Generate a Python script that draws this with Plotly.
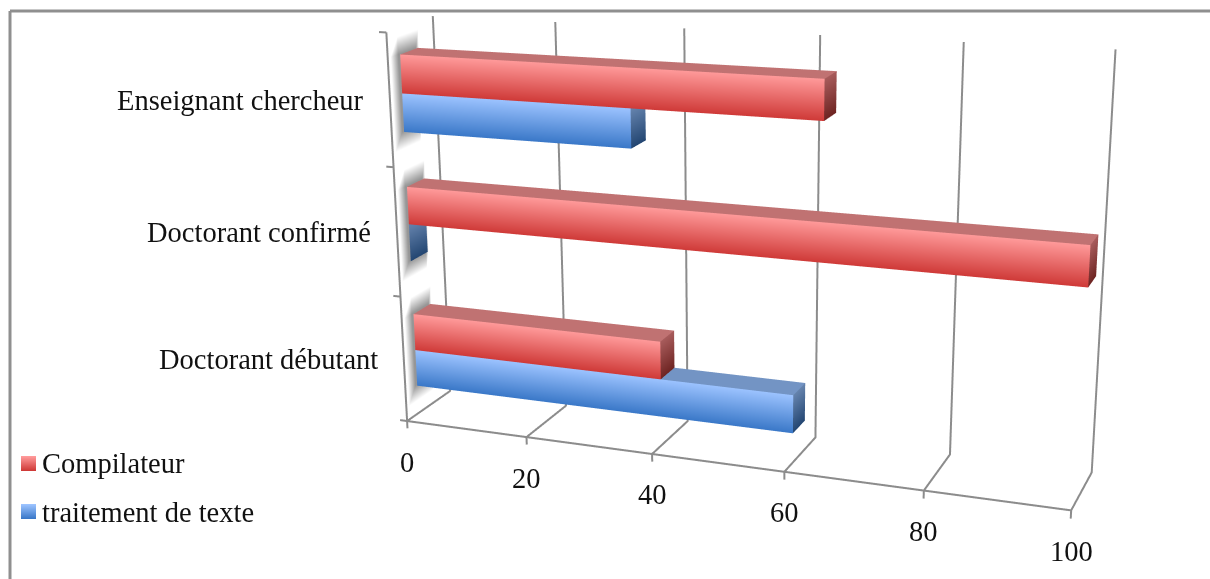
import math
import plotly.graph_objects as go

categories = ["Doctorant débutant", "Doctorant confirmé", "Enseignant chercheur"]
compilateur = [40, 100, 64]
traitement = [60, 0, 36]
ticks = [0, 20, 40, 60, 80, 100]

W = 1210
F = 2105.0
cx0, cy0 = 565.0, 346.0
Hfig = int(round(F/1.2071))
OFF = int(round(Hfig/2-cy0))

# camera and box proportions
EYE = (1.925711, -5.403704, 1.622701)
CENTER = (0.108368, -1.408201, 0.167147)
ROLL = 0.028897
ASPECT_Y, ASPECT_Z = 0.288425, 1.184775

pad = 0.1
xr = [-pad*100, 100+pad*100]; yr = [-pad, 1+pad]; zr = [-pad*3, 3+pad*3]
scale = 1+2*pad

RED = dict(t="#ff9a9a", b="#cf3a38", top="#c07272", ct="#a85c5c", cb="#6e2422")
BLUE = dict(t="#9cc3ff", b="#3a78c8", top="#7394c4", ct="#6684ae", cb="#234672")
FLAT = dict(ambient=1, diffuse=0, specular=0, roughness=1, fresnel=0)

def box(x1, y0, y1, z0, z1, col):
    vx = [0,x1,x1,0,  0,x1,x1,0,  x1,x1,x1,x1]
    vy = [y0,y0,y0,y0, y0,y0,y1,y1, y0,y1,y1,y0]
    vz = [z1,z1,z0,z0, z1,z1,z1,z1, z1,z1,z0,z0]
    vc = [col["t"]]*2+[col["b"]]*2+[col["top"]]*4+[col["ct"]]*2+[col["cb"]]*2
    i = [0,0,4,4,8,8]; j=[1,2,5,6,9,10]; k=[2,3,6,7,10,11]
    return go.Mesh3d(x=vx,y=vy,z=vz,i=i,j=j,k=k,vertexcolor=vc,hoverinfo="skip",showscale=False,
                     lighting=FLAT,flatshading=True)

def glow(zc, y0, y1, hw):
    ys = [y0-.16, y0, y1, y1+.06]
    zs = [zc-hw-.13, zc-hw, zc+hw, zc+hw+.13]
    vx, vy, vz, vc, I, J, K = [], [], [], [], [], [], []
    for a in range(4):
        for b in range(4):
            vx.append(-.3); vy.append(ys[a]); vz.append(zs[b])
            vc.append("#969696" if a in (1,2) and b in (1,2) else "#ffffff")
    for a in range(3):
        for b in range(3):
            n = a*4+b
            I += [n, n]; J += [n+4, n+5]; K += [n+5, n+1]
    return go.Mesh3d(x=vx,y=vy,z=vz,i=I,j=J,k=K,vertexcolor=vc,hoverinfo="skip",showscale=False,
                     lighting=FLAT,flatshading=False)

fig = go.Figure()
GR = "#8c8c8c"
def line(xs,ys,zs):
    fig.add_trace(go.Scatter3d(x=xs,y=ys,z=zs,mode="lines",line=dict(color=GR,width=4),hoverinfo="skip",showlegend=False))
for t in ticks:
    line([t,t,t,t],[0,0,1,1],[-.06,0,0,3])
line([0,100],[0,0],[0,0])
line([0,0],[0,0],[0,3])
for z in range(4):
    line([-1.2,0],[0,0],[z,z])
y0b, y1b = .26, .64
HW = .29
for n,(a,b) in enumerate(zip(compilateur,traitement)):
    zc = n+.515
    fig.add_trace(glow(zc,y0b,y1b,HW))
    fig.add_trace(box(b,y0b,y1b,zc-HW,zc,BLUE))
    fig.add_trace(box(a,y0b,y1b,zc,zc+HW,RED))

FONT = dict(family="Liberation Serif", size=28.5, color="#111")
ann3d = [dict(x=t,y=0,z=0,text=str(t),showarrow=False,yshift=-41,font=FONT) for t in ticks]
ann3d += [dict(x=0,y=0,z=n+.5,text=c_,showarrow=False,xanchor="right",xshift=-24,font=FONT) for n,c_ in enumerate(categories)]

def py(v):
    return 1-(v+OFF)/Hfig
shapes = [dict(type="line",xref="paper",yref="paper",x0=10/W,x1=1,y0=py(11),y1=py(11),line=dict(color="#8f8f8f",width=3)),
          dict(type="line",xref="paper",yref="paper",x0=10/W,x1=10/W,y0=py(11),y1=py(700),line=dict(color="#8f8f8f",width=3))]
def mix(a,b,t):
    A=[int(a[i:i+2],16) for i in (1,3,5)];B=[int(b[i:i+2],16) for i in (1,3,5)]
    return "rgb(%d,%d,%d)"%tuple(round(u+(v-u)*t) for u,v in zip(A,B))
for (col,top) in ((RED,456),(BLUE,504)):
    for s in range(15):
        shapes.append(dict(type="rect",xref="paper",yref="paper",x0=21/W,x1=36/W,y0=py(top+s),y1=py(top+s+1),
                           line=dict(width=0),fillcolor=mix(col["t"],col["b"],s/14)))
ann = [dict(xref="paper",yref="paper",x=40/W,y=py(464),text="Compilateur",showarrow=False,xanchor="left",font=FONT),
       dict(xref="paper",yref="paper",x=40/W,y=py(512),text="traitement de texte",showarrow=False,xanchor="left",font=FONT)]

ax_off = dict(visible=False,showgrid=False,showbackground=False,zeroline=False)
fig.update_layout(width=W,height=Hfig,margin=dict(l=0,r=0,t=0,b=0),paper_bgcolor="white",showlegend=False,
    shapes=shapes,annotations=ann,
    scene=dict(domain=dict(x=[0,2*cx0/W],y=[0,1]),dragmode="orbit",
      xaxis=dict(range=xr,**ax_off),yaxis=dict(range=yr,**ax_off),zaxis=dict(range=zr,**ax_off),
      aspectmode="manual",aspectratio=dict(x=2*scale,y=ASPECT_Y*scale,z=ASPECT_Z*scale),
      camera=dict(eye=dict(x=EYE[0],y=EYE[1],z=EYE[2]),center=dict(x=CENTER[0],y=CENTER[1],z=CENTER[2]),
                  up=dict(x=math.sin(ROLL),y=0,z=math.cos(ROLL)),projection=dict(type="perspective")),
      annotations=ann3d,bgcolor="white"))
post = ("document.documentElement.style.overflow='hidden';document.body.style.overflow='hidden';"
        "document.body.style.margin='0';"
        f"document.querySelector('.plotly-graph-div').style.marginTop='-{OFF}px';")
fig.write_html("out.html",config=dict(displayModeBar=False),post_script=post)
